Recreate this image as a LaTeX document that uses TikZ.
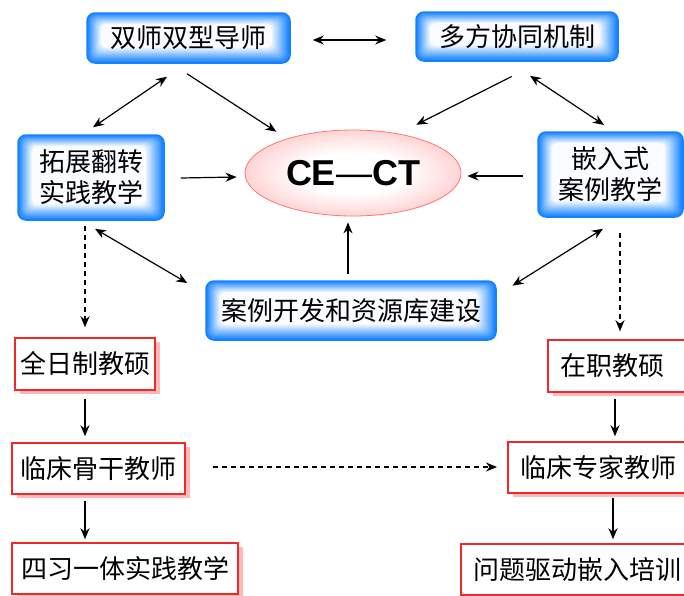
\documentclass[tikz,border=0pt]{standalone}
\usepackage{fontspec}
\setmainfont{Liberation Sans}
\newfontfamily\cjk{Noto Sans CJK SC}
\usetikzlibrary{calc,arrows.meta,shapes.geometric,shadows}
\definecolor{boxblue}{RGB}{20,130,255}
\definecolor{ellpink}{RGB}{255,130,130}
\definecolor{shadowpink}{RGB}{255,185,185}
\definecolor{redline}{RGB}{240,40,40}
\pgfdeclareradialshading{pinkshade}{\pgfpoint{0bp}{0bp}}{color(0bp)=(white); color(12bp)=(white); color(50bp)=(ellpink)}
\tikzset{
  bluebox/.style={rectangle, rounded corners=8pt, draw=boxblue, line width=1.5pt, fill=boxblue,
    font=\cjk\fontsize{26}{31}\selectfont, align=center, inner sep=0pt,
    path picture={
      \foreach \i in {0,...,14}{
        \pgfmathtruncatemacro\p{100-7*\i}
        \fill[boxblue!\p!white, rounded corners=6pt]
          ($(path picture bounding box.south west)+(\i,-1.1*\i)$) rectangle
          ($(path picture bounding box.north east)+(-1.3*\i,0.8*\i)$);
      }
    }},
  redbox/.style={rectangle, draw=redline, line width=1.5pt, fill=white, font=\cjk\fontsize{26}{31}\selectfont, inner sep=0pt,
    drop shadow={shadow xshift=5pt, shadow yshift=-4pt, fill=shadowpink, opacity=1}},
  ellnode/.style={ellipse, draw=ellpink!90!red, line width=0.8pt, shade, shading=pinkshade, inner sep=0pt, font=\fontsize{36}{40}\selectfont\bfseries},
  tip/.tip={Stealth[length=11pt,width=9pt,inset=3.5pt]},
  conn/.style={line width=1.2pt, -tip},
  biconn/.style={line width=1.2pt, tip-tip},
  dashconn/.style={conn, dash pattern=on 5pt off 4pt}
}
\begin{document}
\begin{tikzpicture}[x=1pt,y=-1pt]
\useasboundingbox (0,0) rectangle (684,595);
\clip (0,0) rectangle (684,595);
\fill[white] (0,0) rectangle (684,595);

% blue boxes
\node[bluebox, minimum width=203pt, minimum height=50pt] (tl) at (188.5,38) {双师双型导师};
\node[bluebox, minimum width=202pt, minimum height=49pt] (tr) at (517,36.5) {多方协同机制};
\node[bluebox, minimum width=146pt, minimum height=85pt] (lb) at (91,177.5) {拓展翻转\\实践教学};
\node[bluebox, minimum width=145pt, minimum height=85pt] (rb) at (610.5,174.5) {嵌入式\\案例教学};
\node[bluebox, minimum width=290pt, minimum height=59pt] (bb) at (351,310.5) {案例开发和资源库建设};

% ellipse
\node[ellnode, minimum width=216pt, minimum height=86pt] (ce) at (353,173) {CE{\mdseries—}CT};

% red boxes
\node[redbox, minimum width=140pt, minimum height=52pt] (qr) at (85,364) {全日制教硕};
\node[redbox, minimum width=173pt, minimum height=51pt] (gg) at (98.5,468.5) {临床骨干教师};
\node[redbox, minimum width=226pt, minimum height=51pt] (sx) at (125,568.5) {四习一体实践教学};
\node[redbox, anchor=west, text width=180pt, align=left, inner xsep=13pt, minimum height=52pt] (zz) at (547,366) {在职教硕};
\node[redbox, anchor=west, text width=200pt, align=left, inner xsep=13pt, minimum height=51pt] (zj) at (507,467.5) {临床专家教师};
\node[redbox, anchor=west, text width=250pt, align=left, inner xsep=13pt, minimum height=51pt] (wt) at (460,569.5) {问题驱动嵌入培训};

% connectors
\draw[biconn] ($(tl.east)+(22,2)$) -- ($(tr.west)+(-29,3.5)$);
\draw[biconn] ($(tl.south)+(-21.5,13)$) -- ($(lb.north)+(2,-7)$);
\draw[conn] ($(tl.south)+(-1.5,10)$) -- ($(ce.north west)+(0,-10.6)$);
\draw[conn] ($(tr.south)+(-5.3,14.7)$) -- ($(ce.north east)+(-13.4,-17.6)$);
\draw[biconn] ($(tr.south)+(13,14)$) -- ($(rb.north)+(-6.5,-6.3)$);
\draw[conn] ($(lb.east)+(16,0.5)$) -- ($(ce.west)+(-8,4)$);
\draw[conn] ($(rb.west)+(-14,1.5)$) -- ($(ce.east)+(6,3)$);
\draw[conn] ($(bb.north)+(-3,-6)$) -- ($(ce.south)+(-5,6)$);
\draw[biconn] ($(lb.south)+(4,8)$) -- ($(bb.west)+(-18,-27.5)$);
\draw[biconn] ($(rb.south)+(-7.5,11)$) -- ($(bb.east)+(15.7,-24.8)$);
\draw[dashconn] ($(lb.south)+(-6,5)$) -- ($(qr.north)+(0,-10)$);
\draw[dashconn] ($(rb.south)+(9.5,15)$) -- ($(zz.north west)+(73,-8)$);
\draw[conn] ($(qr.south)+(0,8)$) -- ($(gg.north)+(-13.5,-6)$);
\draw[conn] ($(gg.south)+(-13.5,6)$) -- ($(sx.north)+(-40,-3)$);
\draw[conn] ($(zz.south west)+(68,6)$) -- ($(zj.north west)+(108,-5)$);
\draw[conn] ($(zj.south west)+(106,4)$) -- ($(wt.north west)+(153,-4)$);
\draw[dashconn] ($(gg.east)+(27,-1.5)$) -- ($(zj.west)+(-10,-0.5)$);
\end{tikzpicture}
\end{document}
